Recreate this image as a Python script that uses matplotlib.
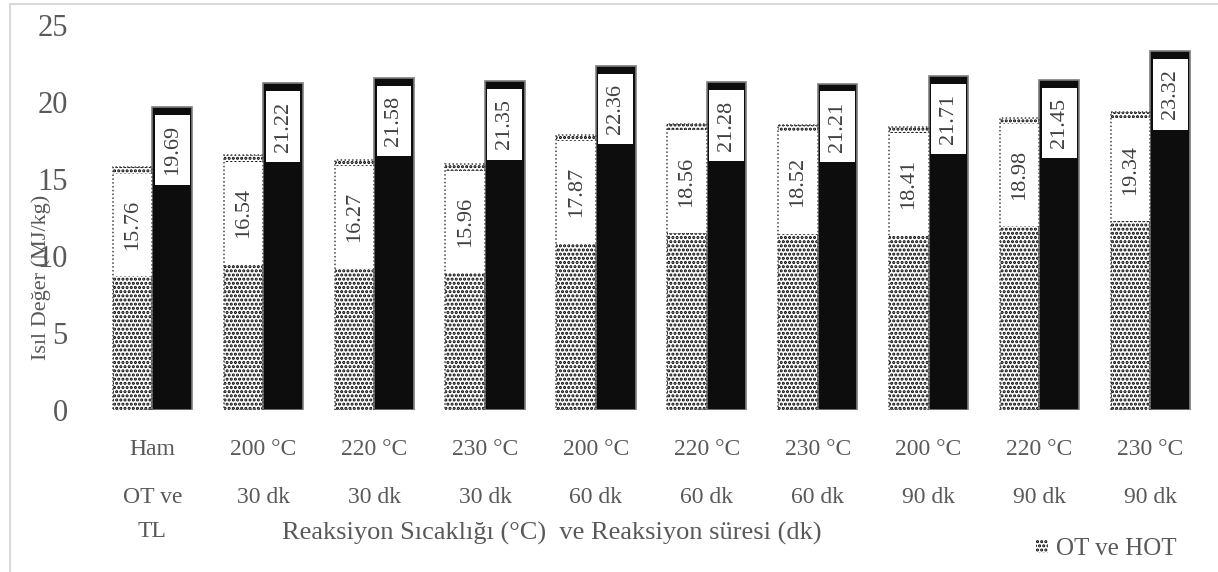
import matplotlib.pyplot as plt
from matplotlib.lines import Line2D
import numpy as np

# reaction conditions (two label rows) and heating values
sicaklik = ['Ham', '200 °C', '220 °C', '230 °C', '200 °C', '220 °C', '230 °C',
            '200 °C', '220 °C', '230 °C']
sure = ['OT ve\nTL', '30 dk', '30 dk', '30 dk', '60 dk', '60 dk', '60 dk',
        '90 dk', '90 dk', '90 dk']
ot_hot = [15.76, 16.54, 16.27, 15.96, 17.87, 18.56, 18.52, 18.41, 18.98, 19.34]
ot_tl = [19.69, 21.22, 21.58, 21.35, 22.36, 21.28, 21.21, 21.71, 21.45, 23.32]

plt.rcParams['font.family'] = ['Liberation Serif', 'DejaVu Serif']
plt.rcParams['hatch.linewidth'] = 1.5

gri = '#595959'
fig = plt.figure(figsize=(12.18, 5.72), dpi=100)
ax = fig.add_axes([0.0796, 0.283, 0.9104, 0.673])

x = np.arange(len(sicaklik))
w = 0.357

# OT ve HOT bars: dotted fill
ax.bar(x - w/2, ot_hot, w, color='white', edgecolor='black', hatch='....',
       linewidth=0, label='OT ve HOT')
# OT ve TL bars: black
ax.bar(x + w/2, ot_tl, w, color='#0d0d0d', edgecolor='#7f7f7f', linewidth=1.2)

# white label boxes inside the bar ends
box1 = 6.65
box2 = 4.6
ot_hot_arr = np.array(ot_hot)
ot_tl_arr = np.array(ot_tl)
ax.bar(x - w/2, box1, w, bottom=ot_hot_arr - 0.4 - box1, color='white', linewidth=0)
ax.bar(x + w/2, box2, w * 0.88, bottom=ot_tl_arr - 0.5 - box2, color='white',
       linewidth=0)
# dotted outline of the first series
ax.bar(x - w/2, ot_hot, w, fill=False, edgecolor='#444444', linestyle=(0, (1, 1.5)),
       linewidth=1.1)

for i in range(len(x)):
    ax.text(x[i] - w/2, ot_hot[i] - 0.4 - box1/2, f'{ot_hot[i]:.2f}', rotation=90,
            ha='center', va='center', fontsize=16, color='#404040')
    ax.text(x[i] + w/2, ot_tl[i] - 0.5 - box2/2, f'{ot_tl[i]:.2f}', rotation=90,
            ha='center', va='center', fontsize=16, color='#404040')

ax.set_xlim(-0.5, len(x) - 0.5)
ax.set_ylim(0, 25)
ax.set_yticks([0, 5, 10, 15, 20, 25])
ax.set_xticks(x)
ax.set_xticklabels(sicaklik)
ax.tick_params(axis='x', length=0, pad=21, labelsize=17, labelcolor=gri)
ax.tick_params(axis='y', length=0, pad=21, labelsize=22, labelcolor=gri)
for s in ax.spines.values():
    s.set_visible(False)

for i in range(len(x)):
    ax.text(x[i], -0.20, sure[i], transform=ax.get_xaxis_transform(), ha='center',
            va='top', fontsize=17, color=gri, linespacing=1.8)

fig.text(0.453, 0.068, 'Reaksiyon Sıcaklığı (°C)  ve Reaksiyon süresi (dk)',
         ha='center', va='center', fontsize=19, color=gri)
fig.text(0.034, 0.515, 'Isıl Değer (MJ/kg)', rotation=90, ha='center', va='center',
         fontsize=16, color=gri)

fig.legend(loc='center right', bbox_to_anchor=(0.966, 0.04), frameon=False,
           fontsize=18, labelcolor=gri, handlelength=0.5, handleheight=0.5,
           handletextpad=0.3, borderpad=0, borderaxespad=0)

# chart area border (left and top visible)
fig.add_artist(Line2D([0.0085, 0.0085], [0, 0.993], color='#d9d9d9', lw=1.5))
fig.add_artist(Line2D([0.0085, 1], [0.993, 0.993], color='#d9d9d9', lw=1.5))

fig.savefig('out.png', dpi=100)
